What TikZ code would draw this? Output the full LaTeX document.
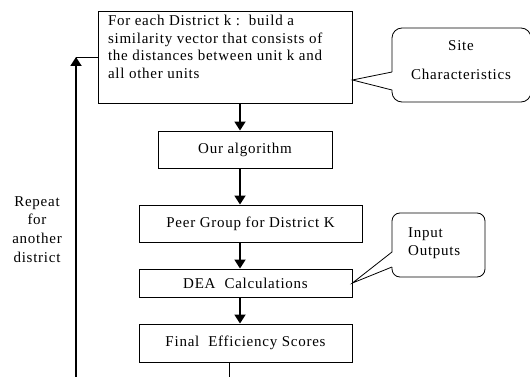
\documentclass[tikz,border=0pt]{standalone}
\usepackage{fontspec}
\setmainfont{Liberation Serif}[LetterSpace=5]
\usetikzlibrary{arrows.meta}

\begin{document}
\begin{tikzpicture}
  [x=1pt,y=-1pt,
   flowbox/.style={draw,line width=0.9pt,inner sep=0pt,font=\fontsize{15}{17.7}\selectfont},
   flowarrow/.style={line width=1.8pt,-{Triangle[width=11pt,length=9pt]}},
   callout/.style={line width=0.8pt},
   note/.style={inner sep=0pt,font=\fontsize{15}{18}\selectfont}]
  \useasboundingbox (0,0) rectangle (530,377);
  \node[flowbox,inner xsep=10pt,inner ysep=4pt] (main) at (225,57)
    {\parbox[t][84pt][t]{234pt}{\raggedright For each District k :\ \ build a\\
     similarity vector that consists of\\ the distances between unit k and\\ all other units}};
  \node[flowbox,minimum width=174pt,minimum height=37pt] (algo) at (245,149.5) {Our algorithm};
  \node[flowbox,minimum width=223pt,minimum height=37pt] (peer) at (250.5,223.5) {Peer Group for District K};
  \node[flowbox,minimum width=213pt,minimum height=28pt] (dea) at (245.5,283) {DEA\ \ Calculations};
  \node[flowbox,minimum width=213pt,minimum height=38pt] (final) at (245.5,343) {Final\ \ Efficiency Scores};
  \coordinate (spine) at (240,0);
  \foreach \from/\to in {main/algo,algo/peer,peer/dea,dea/final}
    \draw[flowarrow] (spine |- \from.south) -- (spine |- \to.north);
  \coordinate (exit) at (229,377);
  \draw[callout] (exit |- final.south) -- (exit);
  % loop back to the first step
  \coordinate (back) at (76,377);
  \draw[flowarrow] (back) -- (back |- main.west);
  \draw[callout] (back |- main.west) -- (main.west);
  \node[note,anchor=north,align=center,font=\fontsize{15}{18.7}\selectfont] (repeat) at (37,196)
    {Repeat\\ for\\ another\\ district};
  % callouts
  \coordinate (sitetip) at ([yshift=-23pt]main.east);
  \draw[callout,rounded corners=10pt] (392,90) -- (392,102) -- (531,102) -- (531,28) -- (392,28) -- (392,72);
  \draw[callout] (392,72) -- (sitetip) -- (392,90);
  \node[note,anchor=north,align=center] (site) at (461,40) {Site\\[11.3pt] Characteristics};
  \draw[callout,rounded corners=8pt] (392,267) -- (392,277) -- (485,277) -- (485,213) -- (392,213) -- (392,252);
  \draw[callout] (392,252) -- (dea.east) -- (392,267);
  \node[note,anchor=north west,align=left] (inputs) at (408,227) {Input\\ Outputs};
\end{tikzpicture}
\end{document}
